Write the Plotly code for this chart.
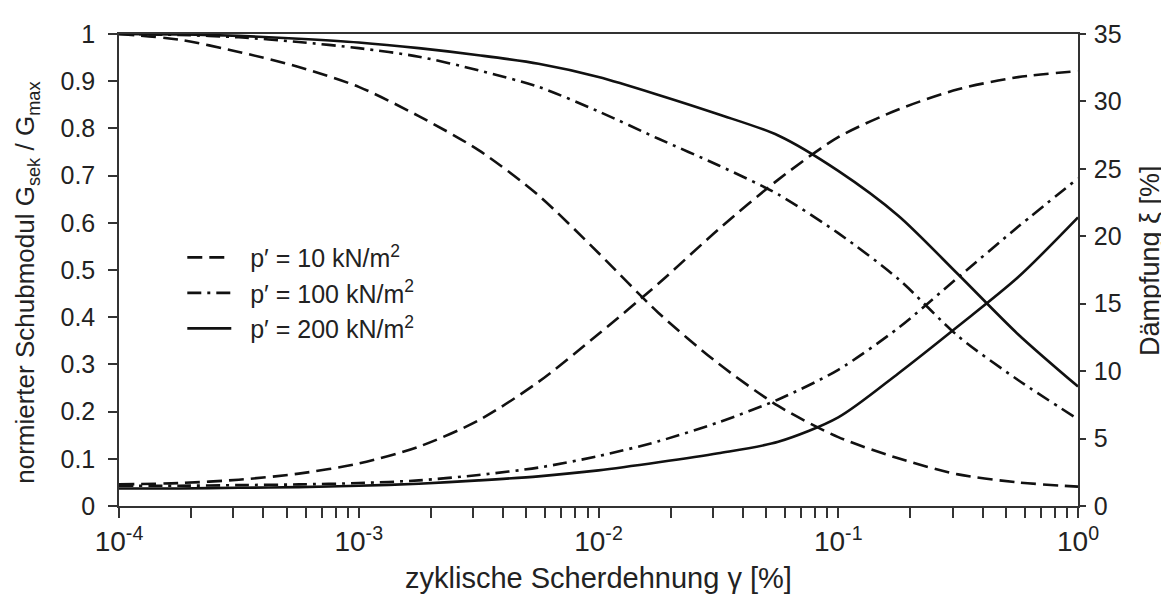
import plotly.graph_objects as go

# cyclic shear strain [%]
strain = [1e-4, 1.78e-4, 3.16e-4, 5.62e-4,
          1e-3, 1.78e-3, 3.16e-3, 5.62e-3,
          1e-2, 1.78e-2, 3.16e-2, 5.62e-2,
          1e-1, 0.178, 0.316, 0.562, 1.0]

# normalised secant shear modulus G_sek / G_max
G_10 = [1.0, 0.988, 0.962, 0.93, 0.888, 0.826, 0.754, 0.658, 0.536, 0.409, 0.302, 0.212, 0.146, 0.101, 0.067, 0.05, 0.041]
G_100 = [1.0, 0.998, 0.993, 0.983, 0.97, 0.952, 0.923, 0.888, 0.836, 0.778, 0.722, 0.66, 0.578, 0.481, 0.36, 0.267, 0.184]
G_200 = [1.0, 0.999, 0.996, 0.99, 0.982, 0.97, 0.955, 0.937, 0.909, 0.871, 0.83, 0.785, 0.71, 0.615, 0.491, 0.364, 0.253]

# damping xi [%]
D_10 = [1.6, 1.7, 1.95, 2.4, 3.15, 4.4, 6.35, 9.2, 12.75, 16.5, 20.5, 24.2, 27.35, 29.4, 30.9, 31.8, 32.25]
D_100 = [1.5, 1.5, 1.55, 1.6, 1.7, 1.9, 2.3, 2.85, 3.7, 4.8, 6.2, 7.9, 10.1, 13.2, 16.95, 20.7, 24.3]
D_200 = [1.3, 1.3, 1.35, 1.4, 1.5, 1.65, 1.9, 2.2, 2.64, 3.24, 3.91, 4.76, 6.57, 9.83, 13.33, 16.96, 21.4]

labels = ["p\u2032 = 10 kN/m<sup>2</sup>", "p\u2032 = 100 kN/m<sup>2</sup>", "p\u2032 = 200 kN/m<sup>2</sup>"]
dashes = ["15px,7px", "14px,6px,3px,6px", "solid"]

# axis ticks
x_major = [1e-4, 1e-3, 1e-2, 1e-1, 1e0]
x_major_text = ["10<sup>-4</sup>", "10<sup>-3</sup>", "10<sup>-2</sup>", "10<sup>-1</sup>", "10<sup>0</sup>"]
x_minor_mult = [2, 3, 4, 5, 6, 7, 8, 9]
y_left_ticks = [0, 0.1, 0.2, 0.3, 0.4, 0.5, 0.6, 0.7, 0.8, 0.9, 1]
y_left_text = ["0", "0.1", "0.2", "0.3", "0.4", "0.5", "0.6", "0.7", "0.8", "0.9", "1"]
y_right_ticks = [0, 5, 10, 15, 20, 25, 30, 35]

x_title = "zyklische Scherdehnung \u03b3 [%]"
y_title = "normierter Schubmodul G<sub>sek</sub> / G<sub>max</sub>"
y2_title = "D\u00e4mpfung \u03be [%]"

x_minor = [d * m for d in x_major[:-1] for m in x_minor_mult]

LC = "#111111"
AX = "#333333"
FONT = "Liberation Sans, Arial, sans-serif"
TXT = "#222222"
GAP = "\u00a0\u00a0"

fig = go.Figure()
G_sets = [G_10, G_100, G_200]
D_sets = [D_10, D_100, D_200]
for i in range(3):
    fig.add_trace(go.Scatter(x=strain, y=G_sets[i], mode="lines", name=GAP + labels[i],
                             line=dict(color=LC, width=2.6, dash=dashes[i], shape="spline", smoothing=0.8),
                             showlegend=True, xaxis="x", yaxis="y"))
    fig.add_trace(go.Scatter(x=strain, y=D_sets[i], mode="lines", name=labels[i],
                             line=dict(color=LC, width=2.6, dash=dashes[i], shape="spline", smoothing=0.8),
                             showlegend=False, xaxis="x", yaxis="y2"))

tick_common = dict(tickwidth=1.5, tickcolor=AX)

# the page body has an 8px margin, so the figure is 8px smaller and offset
fig.update_layout(
    width=1161, height=589,
    margin=dict(l=111, r=91, t=14, b=91),
    paper_bgcolor="white", plot_bgcolor="white",
    font=dict(family=FONT, color=TXT, size=24),
    showlegend=True,
    legend=dict(x=0.066, y=0.575, xanchor="left", yanchor="top",
                bgcolor="rgba(0,0,0,0)", font=dict(size=25, family=FONT, color=TXT),
                tracegroupgap=0, itemwidth=44),
    xaxis=dict(type="log", range=[-4, 0], tickmode="array", tickvals=x_major, ticktext=x_major_text,
               ticks="outside", ticklen=10, **tick_common,
               minor=dict(tickmode="array", tickvals=x_minor, ticks="outside", ticklen=10,
                          tickwidth=1.5, tickcolor=AX, showgrid=False),
               showline=True, linecolor=AX, linewidth=1.5, mirror=True,
               showgrid=False, zeroline=False, ticklabeloverflow="allow",
               tickfont=dict(size=28, family=FONT, color=TXT)),
    xaxis2=dict(type="log", range=[-4, 0], tickmode="array", tickvals=x_major,
                overlaying="x", anchor="y", side="bottom",
                ticks="inside", ticklen=10, **tick_common,
                minor=dict(tickmode="array", tickvals=x_minor, ticks="inside", ticklen=10,
                           tickwidth=1.5, tickcolor=AX, showgrid=False),
                showticklabels=False, showline=False, showgrid=False, zeroline=False),
    yaxis=dict(range=[0, 1], tickmode="array", tickvals=y_left_ticks, ticktext=y_left_text,
               ticks="outside", ticklen=9, **tick_common, ticklabelstandoff=8,
               showline=True, linecolor=AX, linewidth=1.5, ticklabeloverflow="allow",
               showgrid=False, zeroline=False,
               tickfont=dict(size=25, family=FONT, color=TXT)),
    yaxis2=dict(range=[0, 35], tickmode="array", tickvals=y_right_ticks, overlaying="y", side="right", anchor="x",
                ticks="outside", ticklen=6, **tick_common, ticklabelstandoff=3,
                showline=True, linecolor=AX, linewidth=1.5, ticklabeloverflow="allow",
                showgrid=False, zeroline=False,
                tickfont=dict(size=25, family=FONT, color=TXT)),
    yaxis3=dict(range=[0, 35], tickmode="array", tickvals=y_right_ticks, overlaying="y", side="right", anchor="x",
                ticks="inside", ticklen=7, **tick_common,
                showticklabels=False, showline=False, showgrid=False, zeroline=False),
    annotations=[
        dict(text=x_title, xref="paper", yref="paper", x=0.5, y=-0.152,
             xanchor="center", yanchor="middle", showarrow=False,
             font=dict(size=29, family=FONT, color=TXT)),
        dict(text=y_title, xref="paper", yref="paper", x=-0.0959, y=0.473, textangle=-90,
             xanchor="center", yanchor="middle", showarrow=False,
             font=dict(size=26, family=FONT, color=TXT)),
        dict(text=y2_title, xref="paper", yref="paper", x=1.0751, y=0.519, textangle=-90,
             xanchor="center", yanchor="middle", showarrow=False,
             font=dict(size=27, family=FONT, color=TXT)),
    ],
)

fig.write_html("out.html")
